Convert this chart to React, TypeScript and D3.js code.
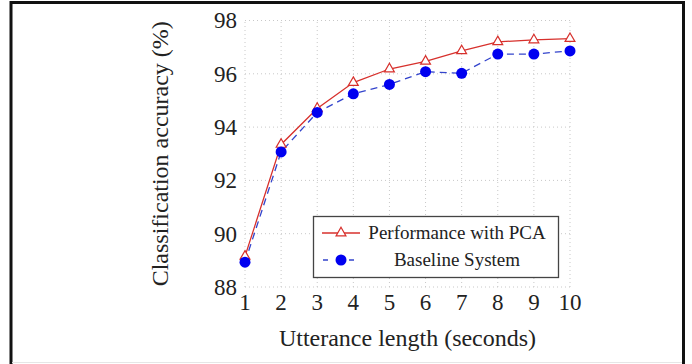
import { useEffect, useRef } from 'react'
import * as d3 from 'd3'

const lengths = [1, 2, 3, 4, 5, 6, 7, 8, 9, 10]
const pcaAccuracy = [89.15, 93.35, 94.7, 95.67, 96.18, 96.47, 96.86, 97.2, 97.27, 97.32]
const baselineAccuracy = [88.93, 93.07, 94.55, 95.25, 95.6, 96.08, 96.02, 96.74, 96.74, 96.86]
const yTicks = [88, 90, 92, 94, 96, 98]
const seriesNames = ['Performance with PCA', 'Baseline System']

const FONT = "'Liberation Serif', 'DejaVu Serif', serif"
const RED = '#d7302c'
const BLUE = '#0000f0'

export default function App() {
  const ref = useRef<SVGSVGElement>(null)

  useEffect(() => {
    if (!ref.current) return
    const width = 692
    const height = 364
    const svg = d3.select(ref.current)
    svg.selectAll('*').remove()

    svg.append('rect').attr('width', width).attr('height', height).attr('fill', '#fff')

    // outer frame (left, top, right)
    svg.append('path')
      .attr('d', `M11,${height} L11,2.5 L683.5,2.5 L683.5,${height}`)
      .attr('fill', 'none')
      .attr('stroke', '#111')
      .attr('stroke-width', 3)
    svg.append('line')
      .attr('x1', 12).attr('x2', 682)
      .attr('y1', 362.5).attr('y2', 362.5)
      .attr('stroke', '#e6e6e6')
      .attr('stroke-width', 1)

    const x = d3.scaleLinear().domain([1, 10]).range([245, 570])
    const y = d3.scaleLinear().domain([88, 98]).range([287, 20.5])

    // grid
    const grid = svg.append('g')
      .attr('stroke', '#c8c8c8')
      .attr('stroke-width', 1)
      .attr('stroke-dasharray', '1,3')
    grid.selectAll('line.v')
      .data(lengths)
      .join('line')
      .attr('x1', (d) => x(d)).attr('x2', (d) => x(d))
      .attr('y1', y(88)).attr('y2', y(98))
    grid.selectAll('line.h')
      .data(yTicks)
      .join('line')
      .attr('class', 'h')
      .attr('x1', x(1)).attr('x2', x(10))
      .attr('y1', (d) => y(d)).attr('y2', (d) => y(d))

    // tick labels
    svg.append('g')
      .attr('font-family', FONT)
      .selectAll('text')
      .data(yTicks)
      .join('text')
      .attr('x', 237)
      .attr('y', (d) => y(d))
      .attr('dy', '0.34em')
      .attr('text-anchor', 'end')
      .attr('font-size', 23)
      .attr('fill', '#222')
      .text((d) => d)

    svg.append('g')
      .attr('font-family', FONT)
      .selectAll('text')
      .data(lengths)
      .join('text')
      .attr('x', (d) => x(d))
      .attr('y', 310)
      .attr('text-anchor', 'middle')
      .attr('font-size', 23)
      .attr('fill', '#222')
      .text((d) => d)

    // axis titles
    svg.append('text')
      .attr('x', (x(1) + x(10)) / 2)
      .attr('y', 346)
      .attr('text-anchor', 'middle')
      .attr('font-family', FONT)
      .attr('font-size', 24)
      .attr('fill', '#222')
      .text('Utterance length (seconds)')

    svg.append('text')
      .attr('transform', `translate(168, ${(y(88) + y(98)) / 2}) rotate(-90)`)
      .attr('text-anchor', 'middle')
      .attr('font-family', FONT)
      .attr('font-size', 24)
      .attr('fill', '#222')
      .text('Classification accuracy (%)')

    const line = d3.line<number>()
      .x((_, i) => x(lengths[i]))
      .y((d) => y(d))

    // baseline series
    svg.append('path')
      .datum(baselineAccuracy)
      .attr('fill', 'none')
      .attr('stroke', '#3344cc')
      .attr('stroke-width', 1.3)
      .attr('stroke-dasharray', '7,5')
      .attr('d', line)

    // PCA series
    svg.append('path')
      .datum(pcaAccuracy)
      .attr('fill', 'none')
      .attr('stroke', RED)
      .attr('stroke-width', 1.3)
      .attr('d', line)

    const tri = d3.symbol().type(d3.symbolTriangle).size(42)

    svg.append('g')
      .selectAll('path')
      .data(pcaAccuracy)
      .join('path')
      .attr('d', tri)
      .attr('transform', (d, i) => `translate(${x(lengths[i])}, ${y(d)})`)
      .attr('fill', '#fff')
      .attr('stroke', RED)
      .attr('stroke-width', 1.2)

    svg.append('g')
      .selectAll('circle')
      .data(baselineAccuracy)
      .join('circle')
      .attr('cx', (_, i) => x(lengths[i]))
      .attr('cy', (d) => y(d))
      .attr('r', 5.5)
      .attr('fill', BLUE)

    // legend
    const legend = svg.append('g')
    legend.append('rect')
      .attr('x', 313.5).attr('y', 216.5)
      .attr('width', 245).attr('height', 61)
      .attr('fill', '#fff')
      .attr('stroke', '#444')
      .attr('stroke-width', 1.3)

    const rows = [233, 260]
    legend.append('line')
      .attr('x1', 322).attr('x2', 360).attr('y1', rows[0]).attr('y2', rows[0])
      .attr('stroke', RED).attr('stroke-width', 1.3)
    legend.append('path')
      .attr('d', tri)
      .attr('transform', `translate(341, ${rows[0]})`)
      .attr('fill', '#fff')
      .attr('stroke', RED)
      .attr('stroke-width', 1.2)
    legend.append('line')
      .attr('x1', 322).attr('x2', 360).attr('y1', rows[1]).attr('y2', rows[1])
      .attr('stroke', '#3344cc').attr('stroke-width', 1.3)
      .attr('stroke-dasharray', '5,8')
      .attr('stroke-dashoffset', -1)
    legend.append('circle')
      .attr('cx', 341).attr('cy', rows[1]).attr('r', 5.5)
      .attr('fill', BLUE)

    legend.selectAll('text')
      .data(seriesNames)
      .join('text')
      .attr('x', 457)
      .attr('y', (_, i) => rows[i])
      .attr('dy', '0.34em')
      .attr('text-anchor', 'middle')
      .attr('font-family', FONT)
      .attr('font-size', 19)
      .attr('fill', '#222')
      .text((d) => d)
  }, [])

  return (
    <svg
      ref={ref}
      width={692}
      height={364}
      style={{ position: 'fixed', left: 0, top: 0, display: 'block' }}
    />
  )
}
